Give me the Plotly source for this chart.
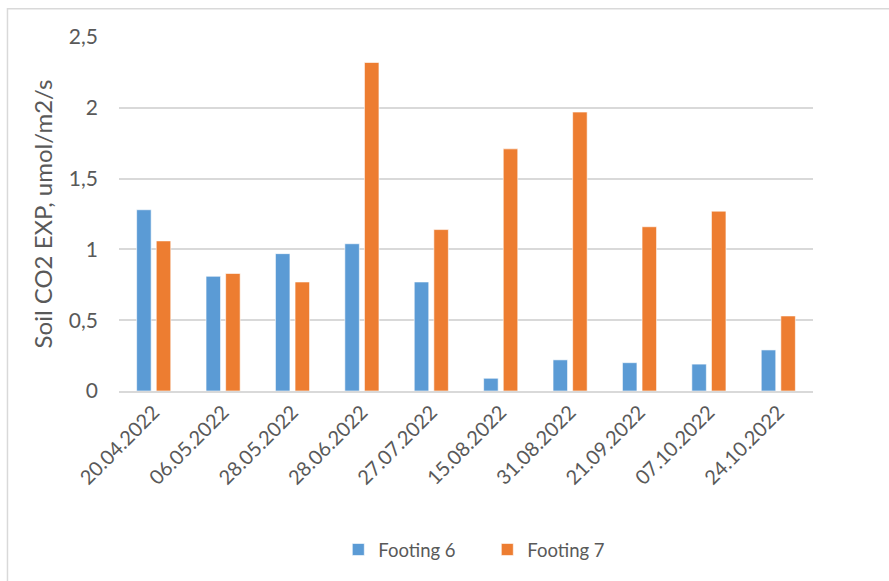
import plotly.graph_objects as go

dates = ["20.04.2022", "06.05.2022", "28.05.2022", "28.06.2022", "27.07.2022",
         "15.08.2022", "31.08.2022", "21.09.2022", "07.10.2022", "24.10.2022"]
footing6 = [1.28, 0.81, 0.97, 1.04, 0.77, 0.09, 0.22, 0.20, 0.19, 0.29]
footing7 = [1.06, 0.83, 0.77, 2.32, 1.14, 1.71, 1.97, 1.16, 1.27, 0.53]
y_ticks = [0, 0.5, 1, 1.5, 2, 2.5]
y_tick_text = ["0", "0,5", "1", "1,5", "2", "2,5"]

BLUE = "#5B9BD5"
ORANGE = "#ED7D31"
TEXT = "#595959"
GRID = "#D9D9D9"
FONT = "Lato, 'Open Sans', sans-serif"

fig = go.Figure()
fig.add_trace(go.Bar(name="Footing 6", x=dates, y=footing6,
                     marker=dict(color=BLUE, line=dict(color="#FFFFFF", width=0.6))))
fig.add_trace(go.Bar(name="Footing 7", x=dates, y=footing7,
                     marker=dict(color=ORANGE, line=dict(color="#FFFFFF", width=0.6))))

fig.update_layout(
    width=889, height=581,
    margin=dict(l=119, r=76, t=37, b=188),
    paper_bgcolor="white", plot_bgcolor="white",
    font=dict(family=FONT, color=TEXT, size=20),
    barmode="group", bargap=0.435, bargroupgap=0.26,
    showlegend=True,
    legend=dict(orientation="h", x=0.316, y=-0.449, xanchor="left", yanchor="middle",
                font=dict(size=18.5, color=TEXT), entrywidth=104, traceorder="normal"),
    shapes=[dict(type="rect", xref="paper", yref="paper",
                 x0=-0.1607, x1=1.2, y0=-0.6, y1=1.08,
                 line=dict(color=GRID, width=1.5), fillcolor="rgba(0,0,0,0)", layer="below")],
)
fig.update_xaxes(tickangle=-45, showgrid=False, showline=True, linecolor=GRID, linewidth=1.5,
                 ticks="", tickfont=dict(size=20, color=TEXT))
fig.update_yaxes(range=[0, 2.5], tickvals=y_ticks, ticktext=y_tick_text,
                 showgrid=True, gridcolor=GRID, gridwidth=1.5, zeroline=False,
                 showline=False, ticks="", ticklabelstandoff=20,
                 tickfont=dict(size=21, color=TEXT),
                 title=dict(text="Soil CO2 EXP, umol/m2/s", standoff=9,
                            font=dict(size=24, color=TEXT)))

fig.write_html("out.html")
